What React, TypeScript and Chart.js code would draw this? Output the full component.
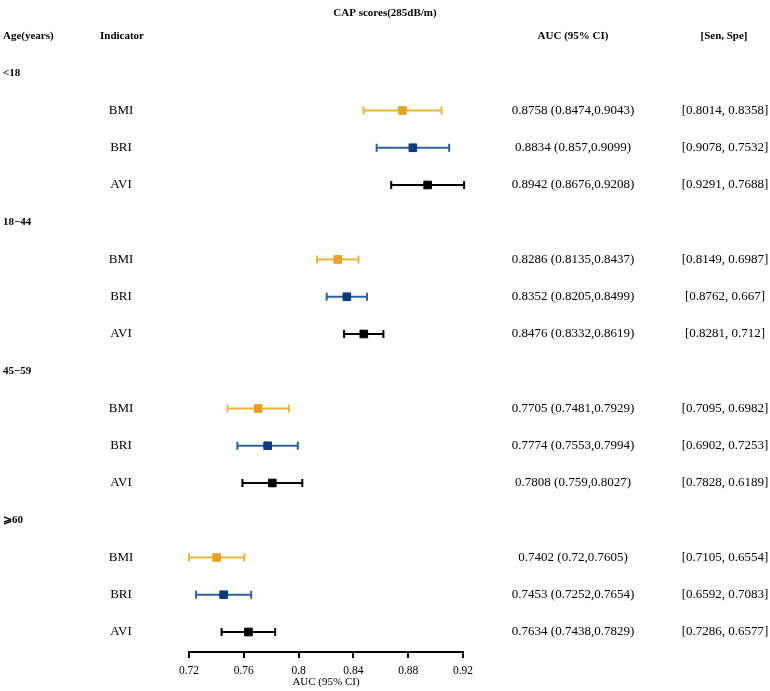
import React, { useEffect, useRef } from "react";
import { Chart, registerables } from "chart.js";

Chart.register(...registerables);

const ageGroups = ["<18", "18\u221244", "45\u221259", "\u2A7E60"];
const indicators = ["BMI", "BRI", "AVI"];

const bmiAuc = [0.8758, 0.8286, 0.7705, 0.7402];
const bmiLo = [0.8474, 0.8135, 0.7481, 0.72];
const bmiHi = [0.9043, 0.8437, 0.7929, 0.7605];
const bmiSenSpe = ["[0.8014, 0.8358]", "[0.8149, 0.6987]", "[0.7095, 0.6982]", "[0.7105, 0.6554]"];
const bmiCiText = ["0.8758 (0.8474,0.9043)", "0.8286 (0.8135,0.8437)", "0.7705 (0.7481,0.7929)", "0.7402 (0.72,0.7605)"];

const briAuc = [0.8834, 0.8352, 0.7774, 0.7453];
const briLo = [0.857, 0.8205, 0.7553, 0.7252];
const briHi = [0.9099, 0.8499, 0.7994, 0.7654];
const briSenSpe = ["[0.9078, 0.7532]", "[0.8762, 0.667]", "[0.6902, 0.7253]", "[0.6592, 0.7083]"];
const briCiText = ["0.8834 (0.857,0.9099)", "0.8352 (0.8205,0.8499)", "0.7774 (0.7553,0.7994)", "0.7453 (0.7252,0.7654)"];

const aviAuc = [0.8942, 0.8476, 0.7808, 0.7634];
const aviLo = [0.8676, 0.8332, 0.759, 0.7438];
const aviHi = [0.9208, 0.8619, 0.8027, 0.7829];
const aviSenSpe = ["[0.9291, 0.7688]", "[0.8281, 0.712]", "[0.7828, 0.6189]", "[0.7286, 0.6577]"];
const aviCiText = ["0.8942 (0.8676,0.9208)", "0.8476 (0.8332,0.8619)", "0.7808 (0.759,0.8027)", "0.7634 (0.7438,0.7829)"];

const tickValues = [0.72, 0.76, 0.8, 0.84, 0.88, 0.92];
const tickLabels = ["0.72", "0.76", "0.8", "0.84", "0.88", "0.92"];

const titleText = "CAP scores(285dB/m)";
const xTitle = "AUC (95% CI)";

const series = [
  { name: "BMI", auc: bmiAuc, lo: bmiLo, hi: bmiHi, ci: bmiCiText, ss: bmiSenSpe, line: "#E8B53A", point: "#E9A024" },
  { name: "BRI", auc: briAuc, lo: briLo, hi: briHi, ci: briCiText, ss: briSenSpe, line: "#2A62A0", point: "#0A3A7E" },
  { name: "AVI", auc: aviAuc, lo: aviLo, hi: aviHi, ci: aviCiText, ss: aviSenSpe, line: "#000000", point: "#000000" },
];

const groupRow = (g: number) => 1 + g * 4;
const rowOf = (g: number, k: number) => 2 + g * 4 + k;

const SERIF = "'Liberation Serif', 'DejaVu Serif', serif";

const forestPlugin = {
  id: "forest",
  beforeDatasetsDraw(chart: any) {
    const { ctx, scales } = chart;
    const x = scales.x, y = scales.y;
    ctx.save();
    series.forEach((s, k) => {
      s.lo.forEach((lo, g) => {
        const yy = y.getPixelForValue(rowOf(g, k));
        const x1 = x.getPixelForValue(lo);
        const x2 = x.getPixelForValue(s.hi[g]);
        ctx.strokeStyle = s.line;
        ctx.lineWidth = 2;
        ctx.beginPath();
        ctx.moveTo(x1, yy);
        ctx.lineTo(x2, yy);
        ctx.moveTo(x1, yy - 4);
        ctx.lineTo(x1, yy + 4);
        ctx.moveTo(x2, yy - 4);
        ctx.lineTo(x2, yy + 4);
        ctx.stroke();
      });
    });
    ctx.restore();
  },
  afterDraw(chart: any) {
    const { ctx, scales } = chart;
    const y = scales.y;
    ctx.save();
    ctx.fillStyle = "#000";
    ctx.textBaseline = "middle";
    // headers
    ctx.font = `bold 11px ${SERIF}`;
    ctx.textAlign = "center";
    ctx.fillText(titleText, 385, y.getPixelForValue(-0.6));
    ctx.textAlign = "left";
    ctx.fillText("Age(years)", 3, y.getPixelForValue(0));
    ctx.fillText("Indicator", 100, y.getPixelForValue(0));
    ctx.textAlign = "center";
    ctx.fillText("AUC (95% CI)", 573, y.getPixelForValue(0));
    ctx.fillText("[Sen, Spe]", 724, y.getPixelForValue(0));
    // groups
    ageGroups.forEach((gName, g) => {
      ctx.font = `bold 11px ${SERIF}`;
      ctx.textAlign = "left";
      ctx.fillText(gName, 3, y.getPixelForValue(groupRow(g)));
      ctx.font = `13px ${SERIF}`;
      series.forEach((s, k) => {
        const yy = y.getPixelForValue(rowOf(g, k));
        ctx.textAlign = "center";
        ctx.fillText(indicators[k], 121, yy);
        ctx.fillText(s.ci[g], 573, yy);
        ctx.fillText(s.ss[g], 725, yy);
      });
    });
    ctx.restore();
  },
};

export default function App() {
  const ref = useRef<HTMLCanvasElement>(null);
  useEffect(() => {
    if (!ref.current) return;
    const chart = new Chart(ref.current, {
      type: "scatter",
      data: {
        datasets: series.map((s, k) => ({
          label: s.name,
          data: s.auc.map((v, g) => ({ x: v, y: rowOf(g, k) })),
          pointStyle: "rect",
          pointRadius: 5.4,
          pointBorderWidth: 1,
          backgroundColor: s.point,
          borderColor: s.point,
          clip: false as any,
        })),
      },
      options: {
        animation: false,
        responsive: false,
        events: [],
        layout: { autoPadding: false, padding: { left: 189, right: 307, top: 0, bottom: 0 } },
        plugins: { legend: { display: false }, tooltip: { enabled: false }, title: { display: false } },
        scales: {
          x: {
            type: "linear",
            min: 0.72,
            max: 0.92,
            afterBuildTicks: (scale: any) => {
              scale.ticks = tickValues.map((v) => ({ value: v }));
            },
            ticks: {
              color: "#000",
              padding: 7.5,
              font: { family: SERIF, size: 11.5, lineHeight: 1 },
              maxRotation: 0,
              autoSkip: false,
              callback: (_v: any, i: number) => tickLabels[i],
            },
            grid: { display: true, drawOnChartArea: false, drawTicks: true, tickLength: 6, color: "#000", lineWidth: 2 },
            border: { display: true, color: "#000", width: 2 },
            title: {
              display: true,
              text: xTitle,
              color: "#000",
              font: { family: SERIF, size: 11, lineHeight: 1 },
              padding: { top: -8, bottom: 3.5 },
            },
          },
          y: {
            type: "linear",
            display: false,
            reverse: true,
            min: -0.966,
            max: 16.537,
          },
        },
      },
      plugins: [forestPlugin],
    });
    return () => chart.destroy();
  }, []);
  return (
    <div style={{ position: "absolute", left: 0, top: 0, width: 770, height: 691, background: "#fff" }}>
      <canvas ref={ref} width={770} height={691} style={{ display: "block" }} />
    </div>
  );
}
